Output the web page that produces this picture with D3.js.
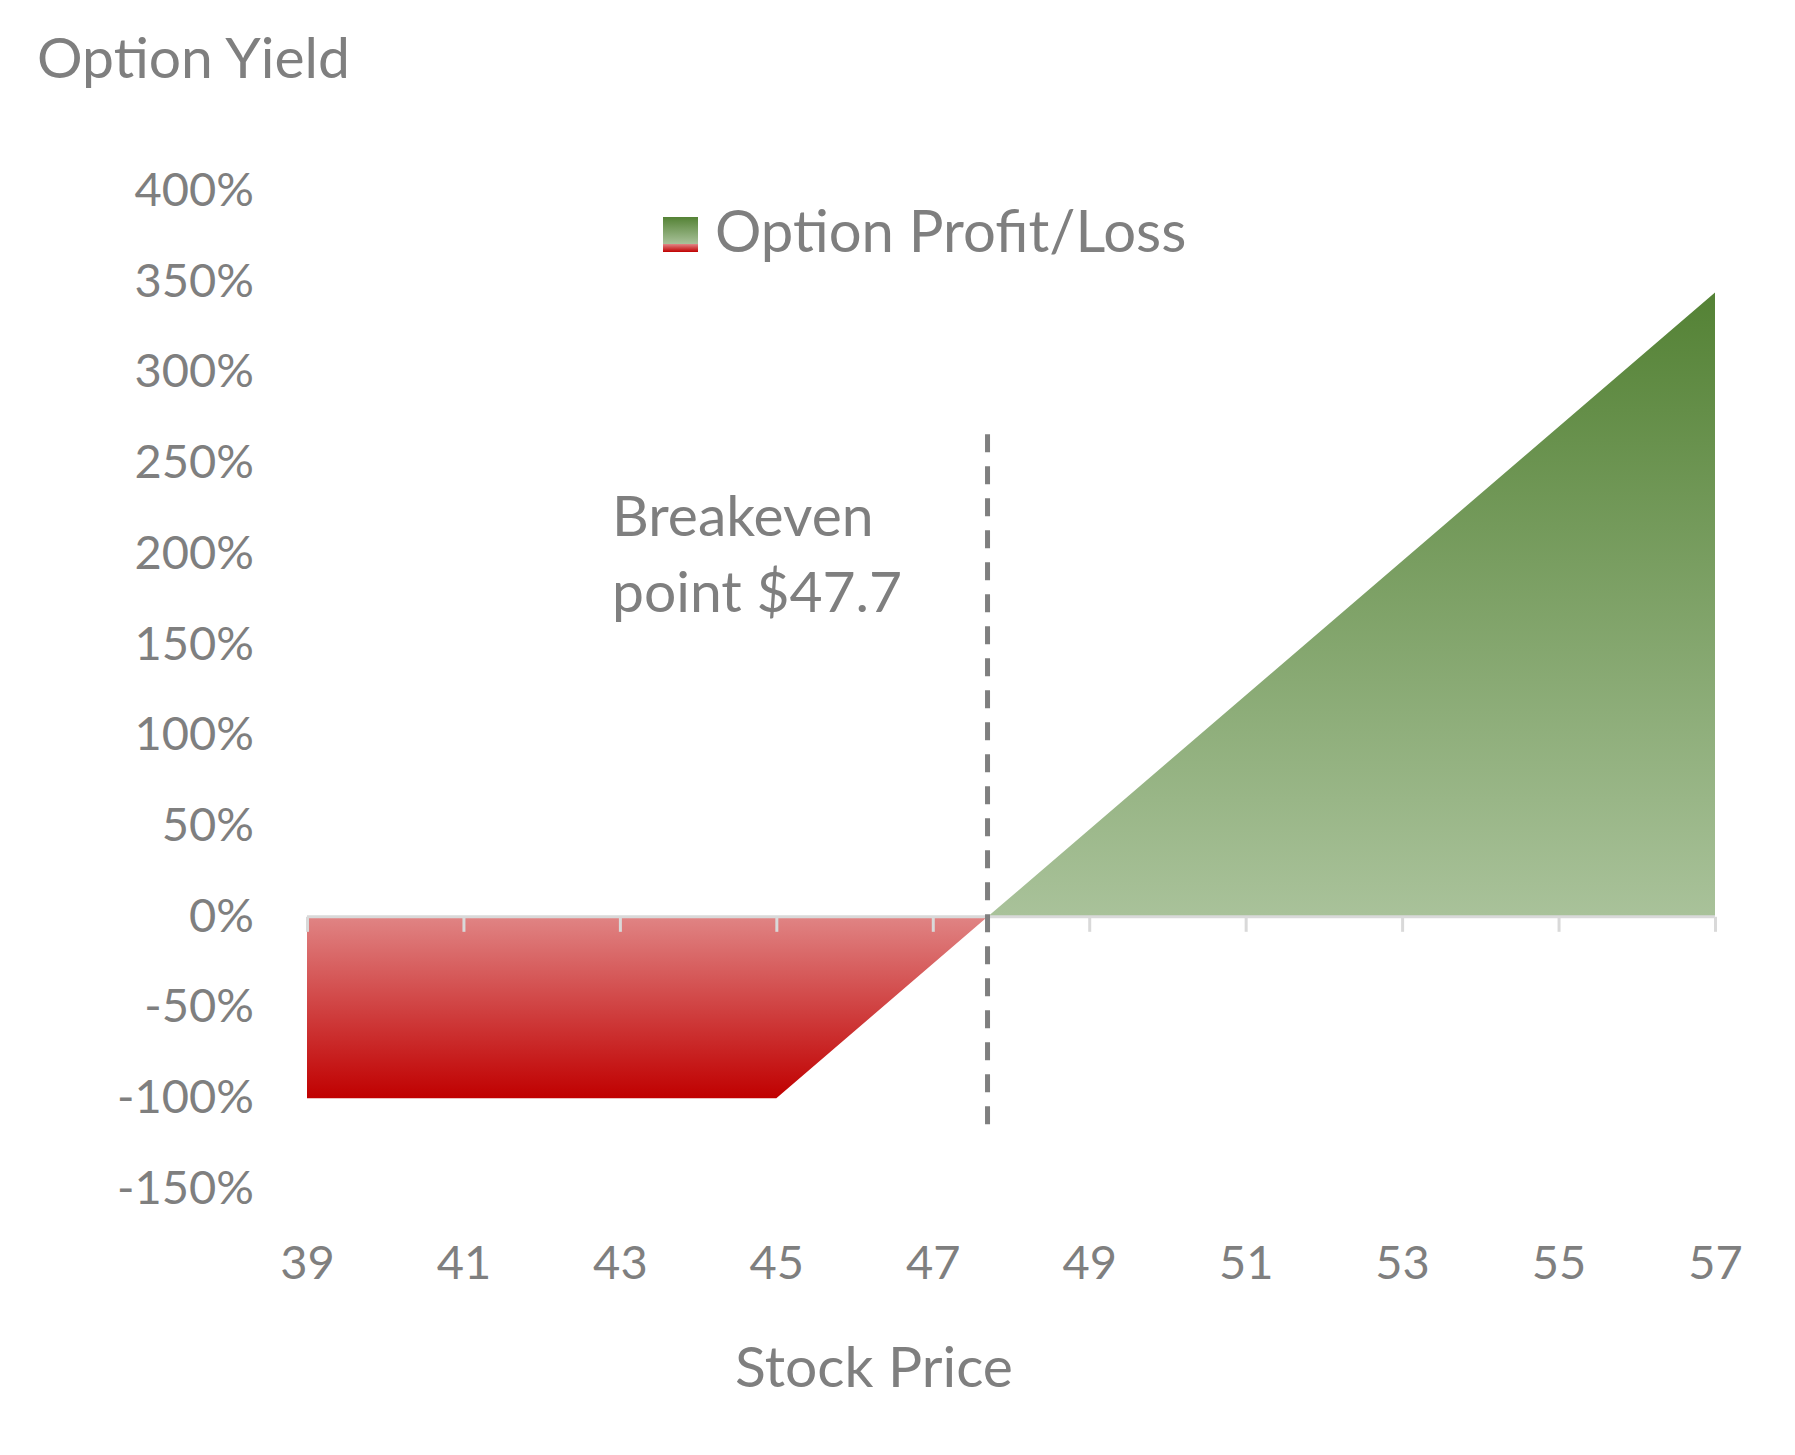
<!DOCTYPE html>
<html>
<head>
<meta charset="utf-8">
<script src="https://cdn.jsdelivr.net/npm/d3@7"></script>
<style>
  html, body { margin: 0; padding: 0; background: #ffffff; }
  svg { display: block; }
  text { font-family: Lato, "Open Sans", sans-serif; fill: #7f7f7f; }
</style>
</head>
<body>
<script>
// ---- data ----
const stockPrice = [39, 45, 47.7, 57];
const optionYield = [-1.00, -1.00, 0.00, 3.44];
const xTickValues = [39, 41, 43, 45, 47, 49, 51, 53, 55, 57];
const yTickValues = [-1.5, -1.0, -0.5, 0, 0.5, 1.0, 1.5, 2.0, 2.5, 3.0, 3.5, 4.0];
const breakevenPrice = 47.7;
const breakevenLineRange = [-1.16, 2.66];
const seriesName = "Option Profit/Loss";
const yAxisTitle = "Option Yield";
const xAxisTitle = "Stock Price";
const annotationLines = ["Breakeven", "point $47.7"];

// ---- layout ----
const W = 1795, H = 1455;
const svg = d3.select("body").append("svg").attr("width", W).attr("height", H);

const x = d3.scaleLinear().domain([39, 57]).range([307, 1715]);
const y = d3.scaleLinear().domain([-1.5, 4.0]).range([1189, 191]);

const data = stockPrice.map((p, i) => ({ p, v: optionYield[i] }));

// gradient
const defs = svg.append("defs");
const yMax = d3.max(optionYield), yMin = d3.min(optionYield);
const zeroOff = (y(0) - y(yMax)) / (y(yMin) - y(yMax));
const grad = defs.append("linearGradient")
  .attr("id", "plGrad")
  .attr("gradientUnits", "userSpaceOnUse")
  .attr("x1", 0).attr("x2", 0)
  .attr("y1", y(yMax)).attr("y2", y(yMin));
grad.append("stop").attr("offset", 0).attr("stop-color", "#548235");
grad.append("stop").attr("offset", zeroOff).attr("stop-color", "#a9c29a");
grad.append("stop").attr("offset", zeroOff).attr("stop-color", "#e08484");
grad.append("stop").attr("offset", 1).attr("stop-color", "#c00000");

const swatchGrad = defs.append("linearGradient")
  .attr("id", "swGrad").attr("x1", 0).attr("x2", 0).attr("y1", 0).attr("y2", 1);
swatchGrad.append("stop").attr("offset", 0).attr("stop-color", "#548235");
swatchGrad.append("stop").attr("offset", zeroOff).attr("stop-color", "#a9c29a");
swatchGrad.append("stop").attr("offset", zeroOff).attr("stop-color", "#e08484");
swatchGrad.append("stop").attr("offset", 1).attr("stop-color", "#c00000");

// area
const area = d3.area().x(d => x(d.p)).y0(y(0)).y1(d => y(d.v));
svg.append("path").datum(data).attr("d", area).attr("fill", "url(#plGrad)");

// x axis at zero
const xAxis = d3.axisBottom(x).tickValues(xTickValues).tickSize(15).tickFormat("");
const gx = svg.append("g").attr("transform", `translate(0,${y(0)})`).call(xAxis);
gx.select(".domain").attr("stroke", "#d9d9d9").attr("stroke-width", 3)
  .attr("d", `M${x(39)},0H${x(57)}`);
gx.selectAll(".tick line").attr("stroke", "#d9d9d9").attr("stroke-width", 3);

// x tick labels at bottom
const xLab = d3.axisBottom(x).tickValues(xTickValues).tickSize(0).tickPadding(0).tickFormat(d3.format("d"));
const gxl = svg.append("g").attr("transform", `translate(0,1279)`).call(xLab);
gxl.select(".domain").remove();
gxl.selectAll("text").attr("font-size", 47).attr("dy", 0).attr("fill", "#7f7f7f")
  .attr("font-family", "Lato, 'Open Sans', sans-serif");

// y axis labels (plain hyphen minus like the original)
const pct = d3.format(".0%");
const yAxis = d3.axisLeft(y).tickValues(yTickValues).tickSize(0).tickPadding(0)
  .tickFormat(d => pct(d).replace("\u2212", "-"));
const gy = svg.append("g").attr("transform", `translate(254,-2)`).call(yAxis);
gy.select(".domain").remove();
gy.selectAll("text").attr("font-size", 47).attr("dy", "0.35em").attr("fill", "#7f7f7f")
  .attr("font-family", "Lato, 'Open Sans', sans-serif");

// breakeven dashed line
svg.append("line")
  .attr("x1", x(breakevenPrice)).attr("x2", x(breakevenPrice))
  .attr("y1", y(breakevenLineRange[1])).attr("y2", y(breakevenLineRange[0]))
  .attr("stroke", "#7f7f7f").attr("stroke-width", 5).attr("stroke-dasharray", "18,14");

// annotation
const ann = svg.append("text").attr("x", 612).attr("y", 536).attr("font-size", 57);
annotationLines.forEach((t, i) => ann.append("tspan").attr("x", 612).attr("dy", i === 0 ? 0 : 76).text(t));

// titles
svg.append("text").attr("x", 37).attr("y", 78).attr("font-size", 57).text(yAxisTitle);
svg.append("text").attr("x", 874).attr("y", 1387).attr("font-size", 57)
  .attr("text-anchor", "middle").text(xAxisTitle);

// legend
svg.append("rect").attr("x", 663).attr("y", 217).attr("width", 35).attr("height", 35)
  .attr("fill", "url(#swGrad)");
svg.append("text").attr("x", 715).attr("y", 252).attr("font-size", 58).text(seriesName);
</script>
</body>
</html>
